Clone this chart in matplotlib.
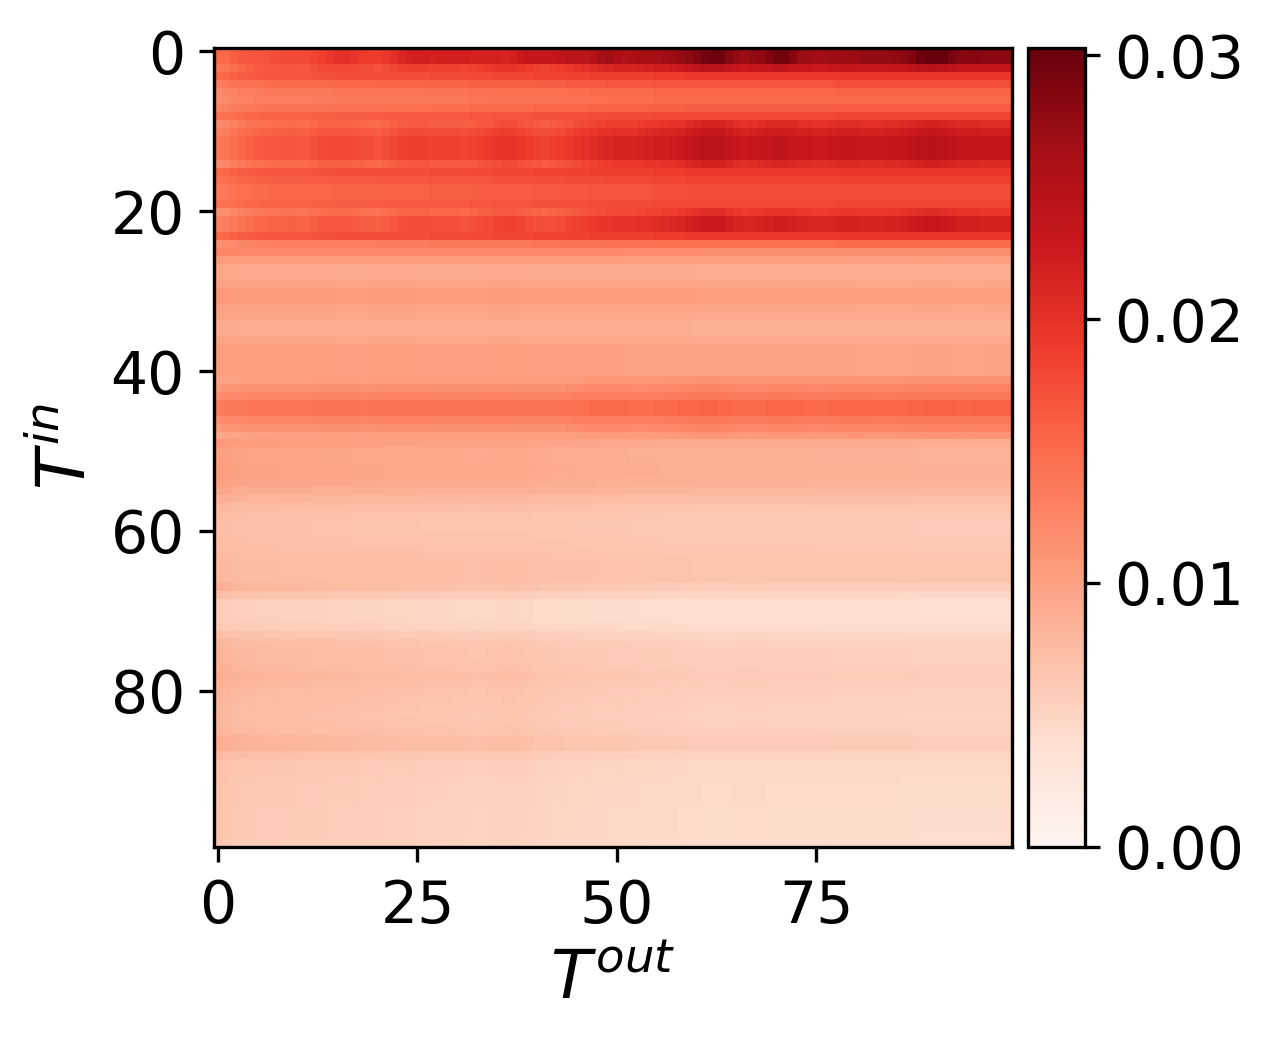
import numpy as np
import matplotlib
matplotlib.use('Agg')
import matplotlib.pyplot as plt

# level of each T_in row, read at the middle of the map (T_out = 50)
row_level = [
    .0258, .0258, .0227, .0188, .0167, .0152, .0148, .0158, .0176, .0200,
    .0215, .0227, .0227, .0227, .0203, .0188, .0179, .0170, .0170, .0176,
    .0190, .0212, .0212, .0188, .0145, .0121, .0103, .0091, .0091, .0097,
    .0105, .0105, .0097, .0094, .0089, .0089, .0094, .0100, .0100, .0100,
    .0100, .0109, .0121, .0133, .0150, .0150, .0133, .0121, .0106, .0094,
    .0088, .0088, .0089, .0089, .0087, .0081, .0074, .0068, .0064, .0063,
    .0063, .0064, .0065, .0067, .0068, .0068, .0068, .0062, .0052, .0042,
    .0042, .0042, .0045, .0052, .0058, .0060, .0060, .0061, .0064, .0062,
    .0060, .0059, .0058, .0057, .0058, .0059, .0064, .0064, .0055, .0050,
    .0050, .0049, .0048, .0048, .0048, .0047, .0047, .0047, .0047, .0045,
]

# how each group of rows changes along T_out, relative to T_out = 50
top_gain = [
    .58, .59, .62, .64, .65, .66, .66, .67, .68, .68,
    .68, .69, .70, .72, .75, .78, .78, .76, .74, .73,
    .73, .75, .78, .82, .84, .85, .85, .84, .85, .85,
    .85, .85, .84, .84, .84, .84, .83, .84, .88, .90,
    .90, .90, .90, .92, .94, .94, .94, .97, 1.02, 1.03,
    1.00, .99, 1.00, 1.01, 1.01, 1.02, 1.03, 1.04, 1.06, 1.08,
    1.11, 1.14, 1.15, 1.15, 1.10, 1.06, 1.05, 1.06, 1.07, 1.11,
    1.14, 1.14, 1.10, 1.05, 1.04, 1.03, 1.03, 1.04, 1.04, 1.05,
    1.05, 1.06, 1.06, 1.06, 1.06, 1.07, 1.08, 1.11, 1.16, 1.18,
    1.18, 1.17, 1.13, 1.10, 1.10, 1.10, 1.09, 1.08, 1.08, 1.08,
]
upper_gain = [
    .60, .62, .65, .68, .70, .72, .73, .74, .74, .75,
    .74, .74, .76, .78, .79, .79, .79, .78, .77, .76,
    .75, .77, .79, .81, .82, .82, .82, .81, .81, .81,
    .81, .80, .81, .83, .84, .86, .87, .87, .85, .83,
    .82, .81, .82, .83, .85, .87, .89, .90, .92, .93,
    .94, .94, .94, .95, .96, .97, .98, .99, 1.00, 1.03,
    1.05, 1.07, 1.07, 1.07, 1.04, 1.01, 1.00, 1.01, 1.02, 1.03,
    1.04, 1.04, 1.03, 1.01, 1.01, 1.00, 1.00, 1.01, 1.02, 1.02,
    1.02, 1.01, 1.01, 1.01, 1.02, 1.02, 1.03, 1.05, 1.07, 1.08,
    1.08, 1.07, 1.05, 1.03, 1.03, 1.03, 1.02, 1.02, 1.02, 1.02,
]
soft_gain = [
    .80, .82, .84, .86, .87, .88, .89, .90, .90, .90,
    .90, .90, .90, .91, .91, .92, .92, .92, .92, .92,
    .92, .93, .93, .93, .93, .93, .93, .94, .94, .94,
    .94, .94, .95, .95, .95, .96, .96, .96, .96, .96,
    .97, .97, .97, .97, .98, .98, .98, .99, .99, 1.00,
    1.00, 1.00, 1.00, 1.00, 1.00, 1.01, 1.01, 1.01, 1.01, 1.02,
    1.02, 1.02, 1.02, 1.02, 1.02, 1.02, 1.02, 1.02, 1.02, 1.02,
    1.02, 1.02, 1.02, 1.02, 1.02, 1.02, 1.02, 1.02, 1.03, 1.03,
    1.03, 1.03, 1.03, 1.03, 1.03, 1.03, 1.03, 1.03, 1.03, 1.03,
    1.03, 1.03, 1.03, 1.03, 1.03, 1.03, 1.03, 1.03, 1.03, 1.03,
]
flat_gain = [
    1.03, 1.02, 1.02, 1.01, 1.01, 1.01, 1.01, 1.01, 1.01, 1.01,
    1.01, 1.01, 1.01, 1.01, 1.01, 1.00, 1.00, 1.00, 1.00, 1.00,
    1.01, 1.01, 1.01, 1.01, 1.01, 1.00, 1.00, 1.00, 1.00, 1.00,
    1.00, 1.00, 1.00, 1.00, 1.00, 1.01, 1.01, 1.01, 1.00, 1.00,
    1.00, 1.00, 1.00, 1.00, 1.00, 1.00, 1.00, 1.00, 1.00, 1.00,
    1.00, .99, .99, .99, .99, .99, .99, .99, .99, .99,
    .98, .98, .98, .98, .98, .98, .98, .98, .98, .98,
    .98, .98, .98, .98, .98, .98, .98, .98, .98, .98,
    .97, .97, .97, .97, .97, .97, .97, .97, .98, .98,
    .98, .98, .97, .97, .97, .97, .97, .98, .98, .98,
]
band_gain = [
    .88, .90, .91, .92, .93, .94, .94, .94, .94, .94,
    .94, .94, .94, .95, .95, .95, .95, .95, .94, .94,
    .95, .95, .96, .96, .96, .96, .96, .95, .95, .95,
    .95, .95, .95, .95, .96, .96, .96, .95, .95, .95,
    .95, .95, .95, .96, .97, .98, .99, 1.00, 1.00, 1.00,
    1.00, 1.00, .99, .99, .99, 1.00, 1.00, 1.01, 1.02, 1.02,
    1.03, 1.04, 1.04, 1.03, 1.02, 1.01, 1.00, 1.01, 1.01, 1.02,
    1.03, 1.03, 1.02, 1.02, 1.01, 1.01, 1.01, 1.02, 1.02, 1.03,
    1.03, 1.03, 1.02, 1.02, 1.02, 1.02, 1.03, 1.04, 1.04, 1.05,
    1.05, 1.05, 1.05, 1.04, 1.04, 1.05, 1.05, 1.05, 1.05, 1.05,
]
mid_fade_gain = [
    1.16, 1.14, 1.12, 1.11, 1.10, 1.10, 1.10, 1.10, 1.09, 1.09,
    1.09, 1.09, 1.08, 1.08, 1.08, 1.08, 1.08, 1.07, 1.07, 1.07,
    1.07, 1.06, 1.06, 1.06, 1.06, 1.06, 1.05, 1.05, 1.05, 1.05,
    1.05, 1.04, 1.04, 1.04, 1.05, 1.05, 1.05, 1.05, 1.05, 1.04,
    1.03, 1.03, 1.02, 1.02, 1.02, 1.01, 1.01, 1.01, 1.00, 1.00,
    1.00, 1.00, .99, .99, .99, .99, .98, .98, .98, .98,
    .97, .97, .97, .97, .97, .97, .97, .97, .97, .97,
    .97, .97, .97, .97, .97, .96, .96, .96, .96, .96,
    .96, .96, .96, .96, .96, .96, .96, .96, .95, .95,
    .95, .95, .95, .95, .95, .95, .95, .95, .95, .95,
]
fade_gain = [
    1.40, 1.36, 1.32, 1.30, 1.29, 1.28, 1.27, 1.27, 1.26, 1.26,
    1.25, 1.25, 1.24, 1.24, 1.23, 1.22, 1.22, 1.21, 1.20, 1.20,
    1.19, 1.18, 1.17, 1.16, 1.16, 1.15, 1.14, 1.14, 1.13, 1.13,
    1.12, 1.11, 1.10, 1.10, 1.11, 1.12, 1.13, 1.13, 1.12, 1.10,
    1.07, 1.06, 1.05, 1.04, 1.03, 1.03, 1.02, 1.01, 1.01, 1.00,
    1.00, .99, .99, .98, .98, .97, .97, .96, .95, .94,
    .94, .93, .93, .93, .93, .94, .94, .94, .94, .93,
    .93, .93, .93, .93, .93, .93, .93, .92, .92, .92,
    .92, .92, .92, .92, .92, .92, .91, .91, .90, .90,
    .90, .90, .90, .90, .90, .90, .90, .90, .90, .90,
]

xticks = [0, 25, 50, 75]
yticks = [0, 20, 40, 60, 80]
cbar_ticks = [0.00, 0.01, 0.02, 0.03]

# which gain goes with which rows
gain_per_row = ([top_gain] * 2 + [upper_gain] + [soft_gain] * 6 + [upper_gain] * 6
                + [soft_gain] * 5 + [upper_gain] * 3 + [soft_gain] * 2
                + [flat_gain] * 16 + [band_gain] * 8 + [mid_fade_gain] * 18 + [fade_gain] * 33)
heat = np.array([lev * np.array(g) for lev, g in zip(row_level, gain_per_row)])

W, H = 1273, 1043
fig = plt.figure(figsize=(W / 300, H / 300), dpi=300)
ax = fig.add_axes([214 / W, 1 - 846.5 / H, (1012 - 214) / W, 799 / H])
cax = fig.add_axes([1028 / W, 1 - 846.5 / H, (1085 - 1028) / W, 799 / H])

im = ax.imshow(heat, cmap='Reds', vmin=0, vmax=0.0303, aspect='auto', interpolation='nearest')
ax.set_xticks(xticks)
ax.set_yticks(yticks)
ax.tick_params(labelsize=14)
ax.tick_params(axis='x', pad=4)
ax.set_xlabel('$T^{out}$', fontsize=16, labelpad=3)
ax.set_ylabel('$T^{in}$', fontsize=16, labelpad=2.5)

cbar = fig.colorbar(im, cax=cax)
cbar.set_ticks(cbar_ticks)
cbar.set_ticklabels(['0.00', '0.01', '0.02', '0.03'])
cbar.ax.tick_params(labelsize=14)

fig.savefig('out.png', dpi=300)
